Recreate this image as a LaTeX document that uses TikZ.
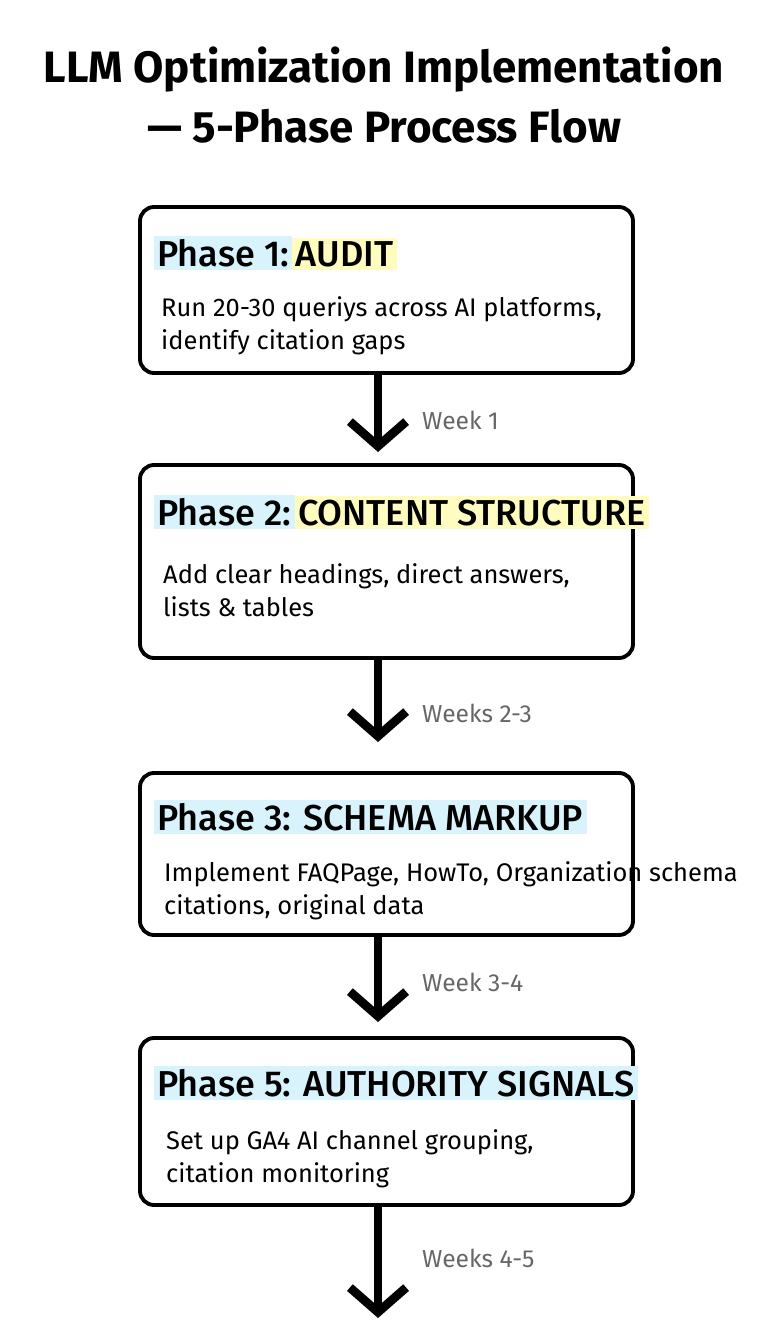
\documentclass[tikz,border=0pt]{standalone}
\usepackage{fontspec}
\setmainfont{Fira Sans}
\newfontfamily\headfont{Fira Sans Medium}
\usetikzlibrary{arrows.meta}
\begin{document}
\begin{tikzpicture}[x=0.02cm,y=-0.02cm,
  box/.style={draw=black,line width=2.2pt,rounded corners=8pt},
  flow/.style={line width=5pt,-{Straight Barb[length=14pt,width=32pt,line width=5pt]}},
  wk/.style={anchor=west,text=black!60,font=\fontsize{14}{16}\selectfont},
  head/.style={anchor=west,inner sep=2pt,font=\headfont\fontsize{20.5}{24}\selectfont},
  body/.style={anchor=north west,align=left,font=\fontsize{14.5}{19}\selectfont},
  hb/.style={fill=cyan!15,inner sep=2pt},
  hy/.style={fill=yellow!25,inner sep=2pt}]
\useasboundingbox (0,0) rectangle (768,1344);
\node[font=\fontsize{25}{34}\selectfont\bfseries,align=center] (title) at (384,95) {LLM Optimization Implementation\\— 5-Phase Process Flow};
% boxes
\draw[box] (140,207) rectangle (633,373);
\node[head] (h1) at (150,253) {\tikz[baseline]{\node[hb,anchor=base]{Phase 1:};}\tikz[baseline]{\node[hy,anchor=base]{AUDIT};}};
\node[body] (b1) at (155,290) {Run 20-30 queriys across AI platforms,\\identify citation gaps};
\draw[box] (140,465) rectangle (633,658);
\node[head] (h2) at (150,512) {\tikz[baseline]{\node[hb,anchor=base]{Phase 2:};}\tikz[baseline]{\node[hy,anchor=base]{CONTENT STRUCTURE};}};
\node[body] (b2) at (157,557) {Add clear headings, direct answers,\\lists \& tables};
\draw[box] (140,773) rectangle (633,935);
\node[head] (h3) at (150,817) {\tikz[baseline]{\node[hb,anchor=base]{Phase 3: SCHEMA MARKUP};}};
\node[body] (b3) at (158,855) {Implement FAQPage, HowTo, Organization schema\\ citations, original data};
\draw[box] (140,1038) rectangle (633,1205);
\node[head] (h4) at (150,1083) {\tikz[baseline]{\node[hb,anchor=base]{Phase 5: AUTHORITY SIGNALS};}};
\node[body] (b4) at (160,1123) {Set up GA4 AI channel grouping,\\ citation monitoring};
% named anchors for connectors
\coordinate (a1s) at (378,375); \coordinate (a1e) at (378,452);
\coordinate (a2s) at (378,660); \coordinate (a2e) at (378,742);
\coordinate (a3s) at (378,937); \coordinate (a3e) at (378,1022);
\coordinate (a4s) at (378,1207); \coordinate (a4e) at (378,1318);
\draw[flow] (a1s) -- (a1e);
\draw[flow] (a2s) -- (a2e);
\draw[flow] (a3s) -- (a3e);
\draw[flow] (a4s) -- (a4e);
\node[wk] (w1) at (416,420) {Week 1};
\node[wk] (w2) at (416,713) {Weeks 2-3};
\node[wk] (w3) at (416,982) {Week 3-4};
\node[wk] (w4) at (416,1258) {Weeks 4-5};
\end{tikzpicture}
\end{document}
